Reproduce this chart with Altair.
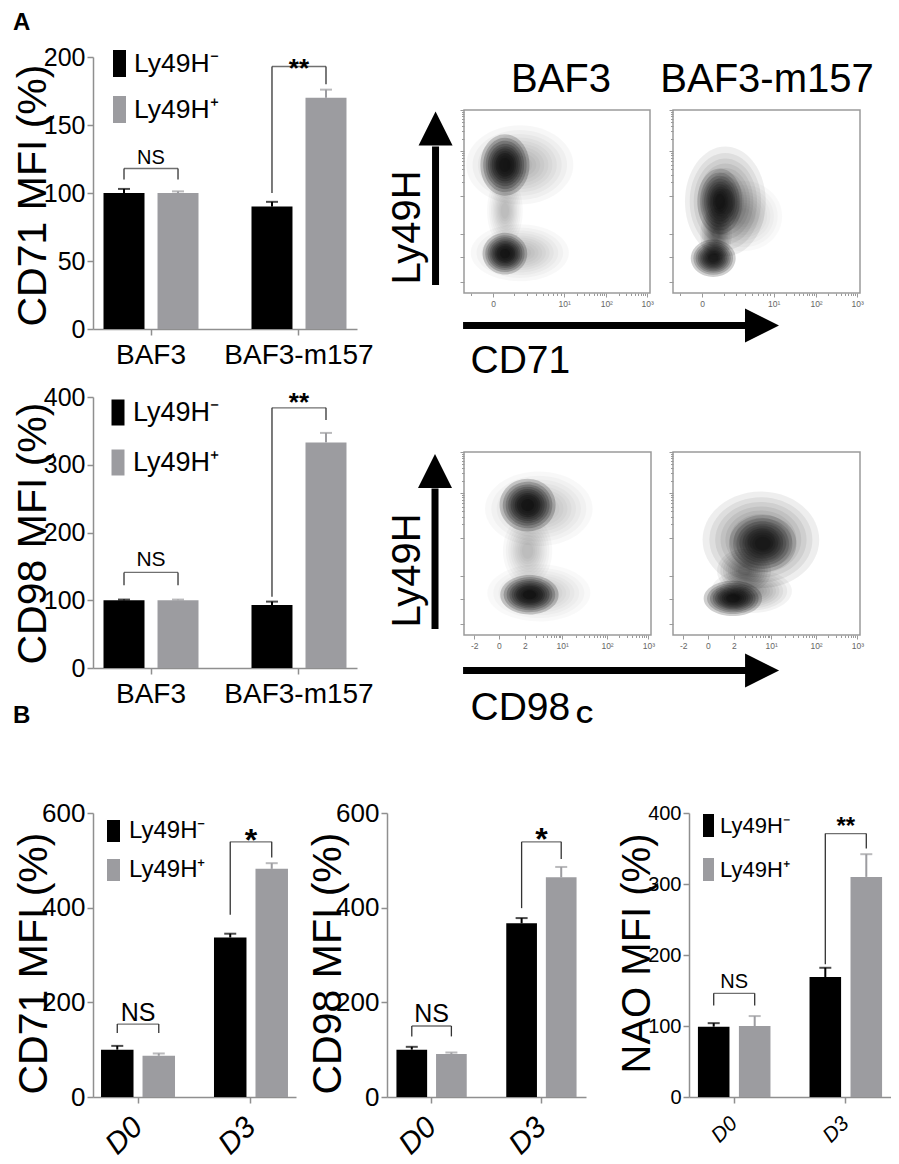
import math
import altair as alt
import pandas as pd

FONT = "Liberation Sans, Arial, Helvetica, sans-serif"
NEG = "Ly49H\u207b"
POS = "Ly49H\u207a"
SERIES = [NEG, POS]
BAR_COLORS = ["#000000", "#9c9ca0"]
AXIS_C = "#8f8f8f"
BRACKET_C = "#333333"

# ---------------- bar-chart values ----------------
# Panel A, CD71
a1_groups = ["BAF3", "BAF3-m157"]
a1_neg = [100, 90]
a1_neg_err = [3, 3.5]
a1_pos = [100, 170]
a1_pos_err = [1.2, 6]
a1_br_top = [118, 193]
a1_br_left = [110, 100]
a1_br_right = [110, 180]
a1_br_label = ["NS", "**"]

# Panel A, CD98
a2_groups = ["BAF3", "BAF3-m157"]
a2_neg = [100, 93]
a2_neg_err = [1, 5]
a2_pos = [100, 333]
a2_pos_err = [1, 14]
a2_br_top = [141, 384]
a2_br_left = [122, 105]
a2_br_right = [122, 366]
a2_br_label = ["NS", "**"]

# Panel B, CD71
b_groups = ["D0", "D3"]
b1_neg = [100, 337]
b1_neg_err = [8, 8]
b1_pos = [87, 482]
b1_pos_err = [5, 12]
b1_br_top = [154, 539]
b1_br_left = [135, 385]
b1_br_right = [135, 506]
b1_br_label = ["NS", "*"]

# Panel B, CD98
b2_neg = [100, 367]
b2_neg_err = [6, 11]
b2_pos = [91, 464]
b2_pos_err = [3, 22]
b2_br_top = [150, 539]
b2_br_left = [128, 399]
b2_br_right = [128, 503]
b2_br_label = ["NS", "*"]

# Panel C, NAO
c_neg = [99, 169]
c_neg_err = [5, 13]
c_pos = [100, 310]
c_pos_err = [14, 32]
c_br_top = [146, 371]
c_br_left = [129, 187]
c_br_right = [129, 350]
c_br_label = ["NS", "**"]

# ---------------- flow-cytometry plots: cell clusters ----------------
# (centre x, centre y, radius x, radius y, density) as fractions of the plot box
cd71_baf3 = [
    (0.22, 0.70, 0.11, 0.14, 1.0),
    (0.30, 0.70, 0.24, 0.18, 0.16),
    (0.22, 0.215, 0.10, 0.095, 1.0),
    (0.30, 0.22, 0.22, 0.13, 0.14),
    (0.22, 0.45, 0.08, 0.16, 0.15),
]
cd71_m157 = [
    (0.28, 0.50, 0.18, 0.25, 0.35),
    (0.25, 0.50, 0.10, 0.15, 0.75),
    (0.23, 0.32, 0.07, 0.12, 0.35),
    (0.215, 0.19, 0.10, 0.085, 1.0),
    (0.38, 0.42, 0.17, 0.16, 0.12),
]
cd98_baf3 = [
    (0.34, 0.71, 0.125, 0.12, 1.0),
    (0.40, 0.69, 0.24, 0.17, 0.15),
    (0.35, 0.22, 0.13, 0.09, 1.0),
    (0.40, 0.23, 0.23, 0.13, 0.13),
    (0.34, 0.46, 0.11, 0.16, 0.15),
]
cd98_m157 = [
    (0.47, 0.52, 0.26, 0.22, 0.35),
    (0.48, 0.50, 0.15, 0.13, 0.75),
    (0.38, 0.35, 0.12, 0.10, 0.3),
    (0.32, 0.20, 0.13, 0.08, 1.0),
    (0.42, 0.24, 0.18, 0.10, 0.25),
]

# axis ticks of the cytometry plots (positions as fractions of the box)
cd71_xt_pos = [0.156, 0.538, 0.765, 0.985]
cd71_xt_lab = ["0", "10\u00b9", "10\u00b2", "10\u00b3"]
cd98_xt_pos = [0.055, 0.187, 0.326, 0.525, 0.765, 0.986]
cd98_xt_lab = ["-2", "0", "2", "10\u00b9", "10\u00b2", "10\u00b3"]
flow_yt_pos = [0.06, 0.197, 0.322, 0.53, 0.776, 1.0]

LEVELS = [1.2, 1.06, 0.94, 0.83, 0.73, 0.64, 0.55, 0.46, 0.37, 0.28]
LEVEL_OP = 0.19
BOX_H = 183


def log_minor(a, b):
    return [round(a + (b - a) * math.log10(m), 4) for m in range(2, 10)]


cd71_x_minor = [0.04] + log_minor(0.156, 0.538) + log_minor(0.538, 0.765) + log_minor(0.765, 0.985)
cd98_x_minor = log_minor(0.326, 0.525) + log_minor(0.525, 0.765) + log_minor(0.765, 0.986)
flow_y_minor = log_minor(0.53, 0.776) + log_minor(0.776, 1.0)


def bar_frames(groups, neg, neg_err, pos, pos_err, top, left, right, label):
    vals = neg + pos
    errs = neg_err + pos_err
    bars = pd.DataFrame({
        "group": groups * 2,
        "series": [NEG] * len(groups) + [POS] * len(groups),
        "value": vals,
        "upper": [v + e for v, e in zip(vals, errs)],
    })
    legs = pd.DataFrame({
        "group": groups * 2,
        "series": [NEG] * len(groups) + [POS] * len(groups),
        "bottom": left + right,
        "top": top * 2,
    })
    brk = pd.DataFrame({"group": groups, "top": top, "label": label})
    return bars, legs, brk


def text_layer(txt, x, y, size, weight="normal", align="left"):
    return alt.Chart(pd.DataFrame({"t": [txt]})).mark_text(
        fontSize=size, fontWeight=weight, align=align, baseline="alphabetic",
        color="black").encode(x=alt.value(x), y=alt.value(y), text="t:N")


def bar_panel(groups, frames, *, width, height, ymax, ystep, ytitle, title_x, title_y,
              pi, po, pi2, ylab, ytitle_size, xlab, xlab_kw, legend, ns_size, ns_dy,
              star_size, star_dy, extra=()):
    bars, legs, brk = frames
    step = width / (len(groups) - pi + 2 * po)
    bw = step * (1 - pi)
    step2 = bw / (2 - pi2)
    xaxis = alt.Axis(title=None, labelFontSize=xlab, tickSize=6, tickWidth=1.5,
                     tickColor=AXIS_C, domainColor=AXIS_C, domainWidth=1.5,
                     labelColor="black", **xlab_kw)
    x_enc = alt.X("group:N", sort=groups,
                  scale=alt.Scale(paddingInner=pi, paddingOuter=po), axis=xaxis)
    xo_enc = alt.XOffset("series:N", sort=SERIES,
                         scale=alt.Scale(paddingInner=pi2, paddingOuter=0))
    yaxis = alt.Axis(title=ytitle, values=list(range(0, ymax + 1, ystep)),
                     labelFontSize=ylab, titleFontSize=ytitle_size,
                     titleFontWeight="normal", titleX=title_x, titleY=title_y,
                     titleBaseline="alphabetic", titleColor="black",
                     labelColor="black", tickSize=6, tickWidth=1.5,
                     tickColor=AXIS_C, domainColor=AXIS_C, domainWidth=1.5,
                     labelPadding=2, grid=False)
    ys = alt.Scale(domain=[0, ymax], nice=False)
    cs = alt.Scale(domain=SERIES, range=BAR_COLORS)

    def Y(field):
        return alt.Y(field, scale=ys, axis=yaxis)

    layer_bars = alt.Chart(bars).mark_bar().encode(
        x=x_enc, xOffset=xo_enc, y=Y("value:Q"),
        color=alt.Color("series:N", scale=cs, legend=legend))
    stems = alt.Chart(bars).mark_rule(strokeWidth=2).encode(
        x=x_enc, xOffset=xo_enc, y=Y("value:Q"), y2="upper:Q",
        color=alt.Color("series:N", scale=cs, legend=None))
    caps = alt.Chart(bars).mark_tick(size=12, thickness=2).encode(
        x=x_enc, xOffset=xo_enc, y=Y("upper:Q"),
        color=alt.Color("series:N", scale=cs, legend=None))
    legs_l = alt.Chart(legs).mark_rule(strokeWidth=1.3, color=BRACKET_C).encode(
        x=x_enc, xOffset=xo_enc, y=Y("bottom:Q"), y2="top:Q")
    bridge = alt.Chart(brk).mark_tick(size=step2, thickness=1.3, color=BRACKET_C).encode(
        x=x_enc, y=Y("top:Q"))
    ns = alt.Chart(brk).transform_filter("datum.label == 'NS'").mark_text(
        fontSize=ns_size, dy=ns_dy, baseline="alphabetic", color="black").encode(
        x=x_enc, y=Y("top:Q"), text="label:N")
    star = alt.Chart(brk).transform_filter("datum.label != 'NS'").mark_text(
        fontSize=star_size, fontWeight="bold", dy=star_dy, baseline="alphabetic",
        color="black").encode(x=x_enc, y=Y("top:Q"), text="label:N")
    return alt.layer(layer_bars, stems, caps, legs_l, bridge, ns, star, *extra).properties(
        width=width, height=height)


def legend_spec(x, y, h, w, font, row_pad, lab_off):
    a = w / h
    return alt.Legend(orient="none", legendX=x, legendY=y, title=None,
                      symbolType=f"M-{a:.3f},-1H{a:.3f}V1H-{a:.3f}Z",
                      symbolSize=h * h, symbolStrokeWidth=0, symbolOpacity=1,
                      labelFontSize=font, labelColor="black", rowPadding=row_pad,
                      labelOffset=lab_off, padding=0)


def ellipse_path(rx, ry):
    if rx >= ry:
        b = ry / rx
        return f"M-1,0A1,{b:.3f} 0 1,0 1,0A1,{b:.3f} 0 1,0 -1,0Z", 2 * rx
    a = rx / ry
    return f"M0,-1A{a:.3f},1 0 1,0 0,1A{a:.3f},1 0 1,0 0,-1Z", 2 * ry


def label_expr(pos, labs):
    s = ""
    for p, l in zip(pos, labs):
        s += f"datum.value == {p} ? '{l}' : "
    return s + "''"


UP = "M0,-1L1,1L-1,1Z"
RIGHT = "M1,0L-1,1L-1,-1Z"


def flow_panel(clusters, *, width, height, xt_pos, xt_lab, x_minor,
               xlabel=None, xlabel_y=0, ylabel=None, ylabel_y=0, arrows=None, extra=()):
    ytop = height / BOX_H
    xs = alt.Scale(domain=[0, 1], nice=False, zero=False)
    ys = alt.Scale(domain=[0, ytop], nice=False, zero=False)
    rows = []
    for cx, cy, rx, ry, dens in clusters:
        path, diam = ellipse_path(rx * width, ry * BOX_H)
        for k in LEVELS:
            rows.append({"cx": cx, "cy": cy, "shape": path,
                         "size": (diam * k) ** 2, "op": dens * LEVEL_OP})
    blobs_df = pd.DataFrame(rows)

    xmaj = list(xt_pos)
    xaxis_kw = dict(values=sorted(xmaj + x_minor), labelExpr=label_expr(xt_pos, xt_lab),
                    domain=False, grid=False, tickColor="#9a9a9a", tickWidth=1,
                    tickSize={"condition": {"test": f"indexof({xmaj}, datum.value) >= 0",
                                            "value": 4}, "value": 2.5},
                    labelFontSize=8.5, labelColor="#666666", labelPadding=2,
                    labelOverlap=False, labelFlush=False)
    if xlabel is not None:
        xaxis_kw.update(title=xlabel, titleFontSize=39, titleFontWeight="normal",
                        titleColor="black", titleAlign="left", titleX=6,
                        titleY=xlabel_y, titleBaseline="alphabetic")
    else:
        xaxis_kw.update(title=None)
    ymaj = list(flow_yt_pos)
    yaxis_kw = dict(values=sorted(ymaj + flow_y_minor), labels=False, domain=False,
                    grid=False, tickColor="#9a9a9a", tickWidth=1,
                    tickSize={"condition": {"test": f"indexof({ymaj}, datum.value) >= 0",
                                            "value": 4}, "value": 2.5})
    if ylabel is not None:
        yaxis_kw.update(title=ylabel, titleFontSize=40, titleFontWeight="normal",
                        titleColor="black", titleX=-45, titleY=ylabel_y,
                        titleBaseline="alphabetic")
    else:
        yaxis_kw.update(title=None)
    xa = alt.Axis(**xaxis_kw)
    ya = alt.Axis(**yaxis_kw)

    def X(f):
        return alt.X(f, scale=xs, axis=xa)

    def Y(f):
        return alt.Y(f, scale=ys, axis=ya)

    frame = alt.Chart(pd.DataFrame({"x0": [0], "x1": [1], "y0": [0], "y1": [1]})).mark_rect(
        fillOpacity=0, stroke="#9a9a9a", strokeWidth=1.5).encode(
        x=X("x0:Q"), x2="x1:Q", y=Y("y0:Q"), y2="y1:Q")
    blobs = alt.Chart(blobs_df).mark_point(filled=True, color="black", strokeWidth=0).encode(
        x=X("cx:Q"), y=Y("cy:Q"),
        size=alt.Size("size:Q", scale=None),
        shape=alt.Shape("shape:N", scale=None),
        opacity=alt.Opacity("op:Q", scale=None))
    layers = [frame, blobs]
    if arrows is not None:
        vx, vy0, vy1, vhy, hy, hx0, hx1, hhx = arrows
        vshaft = alt.Chart(pd.DataFrame({"x": [vx], "y": [vy0], "y2": [vy1]})).mark_rule(
            strokeWidth=7, color="black").encode(x=X("x:Q"), y=Y("y:Q"), y2="y2:Q")
        hshaft = alt.Chart(pd.DataFrame({"x": [hx0], "x2": [hx1], "y": [hy]})).mark_rule(
            strokeWidth=7, color="black").encode(x=X("x:Q"), x2="x2:Q", y=Y("y:Q"))
        heads = alt.Chart(pd.DataFrame({"x": [vx, hhx], "y": [vhy, hy], "shape": [UP, RIGHT]})).mark_point(
            filled=True, color="black", opacity=1, size=34 * 34, strokeWidth=0).encode(
            x=X("x:Q"), y=Y("y:Q"), shape=alt.Shape("shape:N", scale=None))
        layers += [vshaft, hshaft, heads]
    layers += list(extra)
    return alt.layer(*layers).properties(width=width, height=height)


def spacer(w, h):
    return alt.Chart(pd.DataFrame({"v": [0]})).mark_point(opacity=0).encode(
        x=alt.X("v:Q", axis=None), y=alt.Y("v:Q", axis=None)).properties(width=w, height=h)


# ---------------- panels ----------------
A_X = dict(labelAngle=0, labelPadding=6)
D_X = dict(labelAngle=315, labelAlign="right", labelBaseline="middle",
           labelFontStyle="italic", labelPadding=19)

a1 = bar_panel(a1_groups, bar_frames(a1_groups, a1_neg, a1_neg_err, a1_pos, a1_pos_err,
                                      a1_br_top, a1_br_left, a1_br_right, a1_br_label),
               width=264, height=272, ymax=200, ystep=50, ytitle="CD71 MFI (%)",
               title_x=-48, title_y=138, pi=0.358, po=0.071, pi2=0.241, ylab=25,
               ytitle_size=41, xlab=28, xlab_kw=A_X,
               legend=legend_spec(13, -7, 27, 13, 26.5, 19, 1),
               ns_size=20, ns_dy=-5, star_size=26, star_dy=10,
               extra=[text_layer("A", -80, -27, 24, "bold")])
a2 = bar_panel(a2_groups, bar_frames(a2_groups, a2_neg, a2_neg_err, a2_pos, a2_pos_err,
                                      a2_br_top, a2_br_left, a2_br_right, a2_br_label),
               width=264, height=271, ymax=400, ystep=100, ytitle="CD98 MFI (%)",
               title_x=-48, title_y=136, pi=0.358, po=0.071, pi2=0.241, ylab=25,
               ytitle_size=41, xlab=28, xlab_kw=A_X,
               legend=legend_spec(11.5, 2, 26, 13, 27, 22, 1.5),
               ns_size=21, ns_dy=-6, star_size=26, star_dy=3,
               extra=[text_layer("B", -80, 326, 24, "bold")])
b1 = bar_panel(b_groups, bar_frames(b_groups, b1_neg, b1_neg_err, b1_pos, b1_pos_err,
                                     b1_br_top, b1_br_left, b1_br_right, b1_br_label),
               width=203, height=284, ymax=600, ystep=200, ytitle="CD71 MFI (%)",
               title_x=-47, title_y=150, pi=0.345, po=0.071, pi2=0.217, ylab=26,
               ytitle_size=41, xlab=30, xlab_kw=D_X,
               legend=legend_spec(8.5, 6, 22, 13, 24, 15, 3.5),
               ns_size=25, ns_dy=-3, star_size=32, star_dy=9)
b2 = bar_panel(b_groups, bar_frames(b_groups, b2_neg, b2_neg_err, b2_pos, b2_pos_err,
                                     b2_br_top, b2_br_left, b2_br_right, b2_br_label),
               width=199, height=284, ymax=600, ystep=200, ytitle="CD98 MFI (%)",
               title_x=-47, title_y=150, pi=0.36, po=0.086, pi2=0.225, ylab=26,
               ytitle_size=41, xlab=30, xlab_kw=D_X, legend=None,
               ns_size=25, ns_dy=-4, star_size=32, star_dy=8)
c = bar_panel(b_groups, bar_frames(b_groups, c_neg, c_neg_err, c_pos, c_pos_err,
                                    c_br_top, c_br_left, c_br_right, c_br_label),
              width=202, height=284, ymax=400, ystep=100, ytitle="NAO MFI (%)",
              title_x=-40, title_y=140, pi=0.35, po=0.08, pi2=0.23, ylab=20,
              ytitle_size=40, xlab=21, xlab_kw=dict(D_X, labelPadding=17),
              legend=legend_spec(8, 1, 23, 11, 22, 21, 0),
              ns_size=20, ns_dy=-5, star_size=24, star_dy=0)

# arrow geometry in box fractions: vertical x, y0, y1, head y; horizontal y, x0, x1, head x
arrows_row1 = (-0.153, 0.044, 0.80, 0.899, -0.178, -0.005, 1.522, 1.602)
arrows_row2 = (-0.155, 0.033, 0.80, 0.896, -0.194, -0.005, 1.513, 1.594)

s1 = flow_panel(cd71_baf3, width=186, height=236, xt_pos=cd71_xt_pos, xt_lab=cd71_xt_lab,
                x_minor=cd71_x_minor, xlabel="CD71", xlabel_y=79,
                ylabel="Ly49H", ylabel_y=170, arrows=arrows_row1,
                extra=[text_layer("BAF3", 97, 35, 40, align="center")])
s2 = flow_panel(cd71_m157, width=187, height=236, xt_pos=cd71_xt_pos, xt_lab=cd71_xt_lab,
                x_minor=cd71_x_minor,
                extra=[text_layer("BAF3-m157", 94, 35, 40, align="center")])
s3 = flow_panel(cd98_baf3, width=187, height=238, xt_pos=cd98_xt_pos, xt_lab=cd98_xt_lab,
                x_minor=cd98_x_minor, xlabel="CD98", xlabel_y=84,
                ylabel="Ly49H", ylabel_y=173, arrows=arrows_row2,
                extra=[text_layer("C", 112, 326, 24, "bold")])
s4 = flow_panel(cd98_m157, width=187, height=238, xt_pos=cd98_xt_pos, xt_lab=cd98_xt_lab,
                x_minor=cd98_x_minor)

RES = dict(x="independent", y="independent", color="independent", xOffset="independent")

top_grid = alt.concat(
    a1, spacer(107, 340), s1, spacer(22, 1), s2,
    a2, spacer(107, 1), s3, spacer(22, 1), s4,
    columns=5, spacing=0, bounds="flush", align="each",
).resolve_scale(**RES)

bottom_row = alt.hconcat(
    b1, spacer(91, 1), b2, spacer(103, 1), c, spacing=0, bounds="flush",
).resolve_scale(**RES)

chart = alt.vconcat(top_grid, bottom_row, spacing=72).resolve_scale(**RES).properties(
    padding={"left": 3, "top": 3, "right": 0, "bottom": 2}, background="white"
).configure_view(
    stroke=None
).configure_axis(
    labelFont=FONT, titleFont=FONT, grid=False
).configure_legend(
    labelFont=FONT
).configure_title(
    font=FONT
).configure_text(
    font=FONT
)

chart.save("out.html", embed_options={"renderer": "svg", "actions": False})
